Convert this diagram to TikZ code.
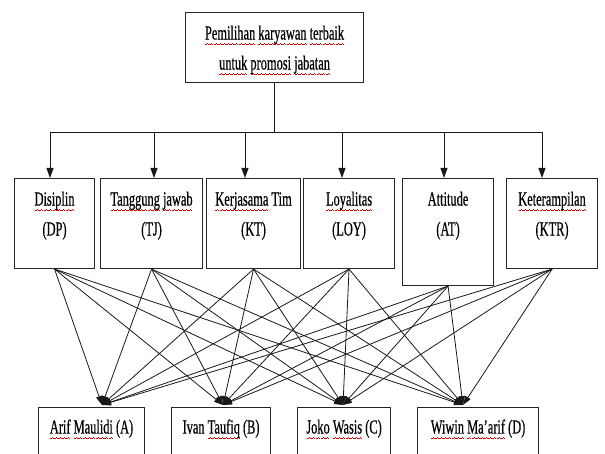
\documentclass[tikz,border=0pt]{standalone}
\usepackage{fontspec}
\usetikzlibrary{arrows.meta}
\setmainfont{Liberation Serif}[FakeStretch=0.62,FakeBold=0.5]
\newsavebox\sqbox
\newcommand\waveunit{\hbox{\rule[-5.4pt]{1pt}{0.7pt}\rule[-4.7pt]{1pt}{0.7pt}\rule[-4pt]{1pt}{0.7pt}\rule[-4.7pt]{1pt}{0.7pt}}}
\newcommand\sq[1]{\sbox\sqbox{#1}\leavevmode\rlap{\hbox to \wd\sqbox{\color{red!85!black}\xleaders\waveunit\hfill}}\usebox\sqbox}
\newcommand\boxtext[4]{\parbox[t][#2][t]{#1}{\centering\fontsize{20}{30}\selectfont\rule{0pt}{#3}#4}}
\begin{document}
\begin{tikzpicture}[x=1pt,y=-1pt,
  box/.style={draw=black!85, line width=1.1pt, inner sep=0pt, anchor=north west, text=black},
  conn/.style={draw=black!90, line width=0.8pt, -{Triangle[length=9pt,width=6pt]}},
  feed/.style={draw=black!90, line width=0.9pt, -{Triangle[length=10pt,width=7pt]}},
  bar/.style={draw=black!90, line width=0.9pt}]
\useasboundingbox (0,0) rectangle (605,454);
\clip (0,0) rectangle (605,454);
% goal
\node[box] (goal) at (185,12) {\boxtext{178pt}{70pt}{27pt}{\sq{Pemilihan} \sq{karyawan} \sq{terbaik}\\ \sq{untuk} \sq{promosi} \sq{jabatan}}};
% criteria
\node[box] (DP)  at (14,178)  {\boxtext{80pt}{90pt}{27pt}{\sq{Disiplin}\\(DP)}};
\node[box] (TJ)  at (100,178) {\boxtext{102pt}{90pt}{27pt}{\sq{Tanggung} \sq{jawab}\\(TJ)}};
\node[box] (KT)  at (206,178) {\boxtext{94pt}{90pt}{27pt}{\sq{Kerjasama} Tim\\(KT)}};
\node[box] (LOY) at (303,178) {\boxtext{91pt}{90pt}{27pt}{\sq{Loyalitas}\\(LOY)}};
\node[box] (AT)  at (402,178) {\boxtext{91pt}{107pt}{27pt}{Attitude\\(AT)}};
\node[box] (KTR) at (506,178) {\boxtext{91pt}{90pt}{27pt}{\sq{Keterampilan}\\(KTR)}};
% alternatives
\node[box] (A) at (38,407)  {\boxtext{106pt}{60pt}{26pt}{\sq{Arif} \sq{Maulidi} (A)}};
\node[box] (B) at (171,407) {\boxtext{99pt}{60pt}{26pt}{Ivan \sq{Taufiq} (B)}};
\node[box] (C) at (297,407) {\boxtext{93pt}{60pt}{26pt}{\sq{Joko} \sq{Wasis} (C)}};
\node[box] (D) at (417,407) {\boxtext{121pt}{60pt}{26pt}{\sq{Wiwin} \sq{Ma’arif} (D)}};
% bar and feeders
\coordinate (b1) at (50,132);
\coordinate (b2) at (154,132);
\coordinate (b3) at (245,132);
\coordinate (b4) at (342,132);
\coordinate (b5) at (444,132);
\coordinate (b6) at (542,132);
\draw[bar] (b1) -- (b6);
\draw[bar] (goal.south) -- (goal.south |- b1);
\draw[feed] (b1) -- (b1 |- DP.north);
\draw[feed] (b2) -- (b2 |- TJ.north);
\draw[feed] (b3) -- (b3 |- KT.north);
\draw[feed] (b4) -- (b4 |- LOY.north);
\draw[feed] (b5) -- (b5 |- AT.north);
\draw[feed] (b6) -- (b6 |- KTR.north);
% targets
\coordinate (tA) at (102,405);
\coordinate (tB) at (223,405);
\coordinate (tC) at (343,405);
\coordinate (tD) at (463,405);
\foreach \s in {DP,TJ,KT,LOY,AT,KTR}
  \foreach \t in {tA,tB,tC,tD}
    \draw[conn] (\s.south) -- (\t);
\end{tikzpicture}
\end{document}
